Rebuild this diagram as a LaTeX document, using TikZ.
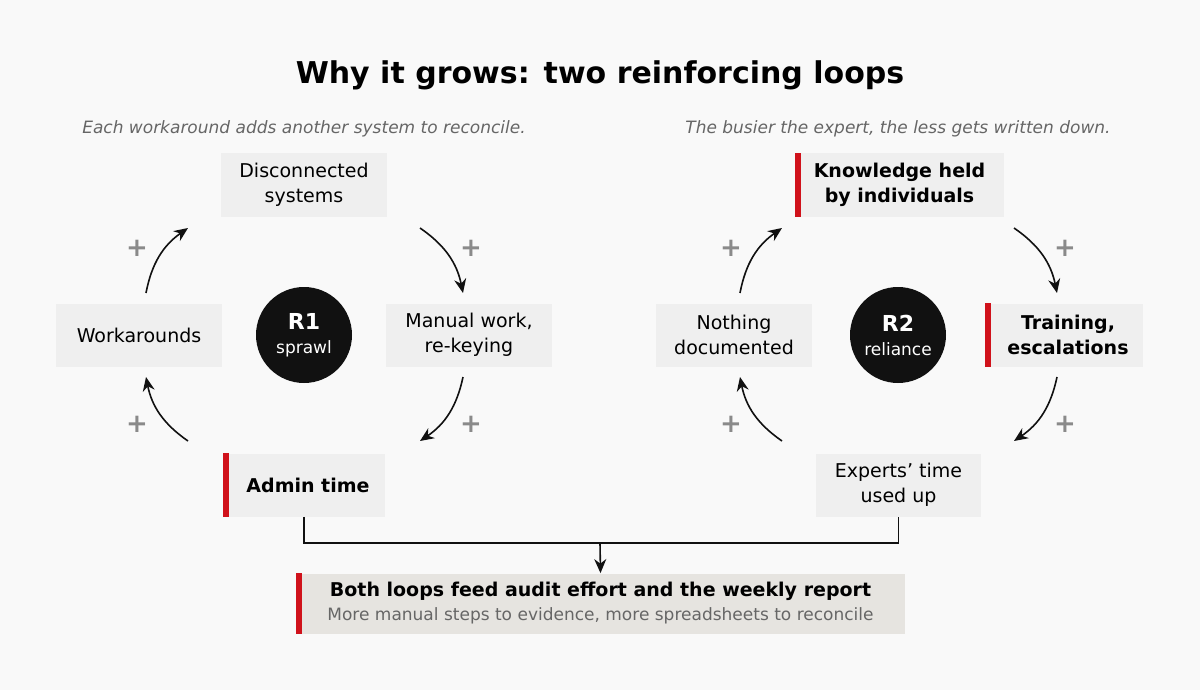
\documentclass[tikz,border=0pt]{standalone}
\usepackage{fontspec}
\setmainfont{DejaVu Sans}
\usetikzlibrary{arrows.meta}
\definecolor{bgc}{HTML}{F9F9F9}
\definecolor{boxc}{HTML}{EFEFEF}
\definecolor{feedc}{HTML}{E6E4E0}
\definecolor{redc}{HTML}{D0121B}
\definecolor{darkc}{HTML}{111111}
\definecolor{plusc}{HTML}{8A8A8A}
\definecolor{subc}{HTML}{666666}
\tikzset{
  box/.style={fill=boxc, align=center, font=\fontsize{9.5}{12.5}\selectfont, minimum width=83pt, minimum height=31.5pt, inner sep=2pt},
  keybox/.style={box, font=\fontsize{9.5}{12.5}\selectfont\bfseries},
  loop/.style={circle, fill=darkc, minimum size=48pt, inner sep=0pt, align=center, text=white},
  flow/.style={-{Stealth[length=7pt,width=6pt]}, line width=0.8pt, darkc},
  plus/.style={text=plusc, font=\fontsize{13}{13}\selectfont\bfseries},
  note/.style={text=subc, font=\fontsize{8.5}{10}\selectfont\itshape}
}
\newcommand{\redbar}[1]{\fill[redc] (#1.north west) rectangle ([xshift=3pt]#1.south west);}
\begin{document}
\begin{tikzpicture}[x=0.5pt,y=-0.5pt]
\fill[bgc] (0,0) rectangle (1200,690);
\useasboundingbox (0,0) rectangle (1200,690);

\node[font=\fontsize{15}{16}\selectfont\bfseries] (title) at (600,75) {Why it grows: two reinforcing loops};
\node[note] (noteL) at (304,129) {Each workaround adds another system to reconcile.};
\node[note] (noteR) at (898,129) {The busier the expert, the less gets written down.};

% left loop
\node[box] (disc) at (304,185) {Disconnected\\systems};
\node[box] (manual) at (469,335) {Manual work,\\re-keying};
\node[keybox, minimum width=81pt] (admin) at (304,485) {\hspace{4pt}Admin time};
\node[box] (work) at (139,335) {Workarounds};
\node[loop] (r1) at (304,335) {{\fontsize{11}{12}\selectfont\bfseries R1}\\[0pt]{\fontsize{8.5}{10}\selectfont sprawl}};
\redbar{admin}

% right loop
\node[keybox, minimum width=104.5pt] (know) at (899.5,185) {Knowledge held\\by individuals};
\node[keybox, minimum width=79pt] (train) at (1064,335) {\hspace{4pt}Training,\\\hspace{4pt}escalations};
\node[box, minimum width=82.5pt] (expert) at (898.5,485) {Experts’ time\\used up};
\node[box, minimum width=78pt] (nodoc) at (734,335) {Nothing\\documented};
\node[loop] (r2) at (898,335) {{\fontsize{11}{12}\selectfont\bfseries R2}\\[0pt]{\fontsize{8.5}{10}\selectfont reliance}};
\redbar{know}
\redbar{train}

% arrow end points
\foreach \n/\dx in {a/0, b/594} {
  \coordinate (\n1) at (146+\dx,293); \coordinate (\n2) at (188+\dx,228);
  \coordinate (\n3) at (420+\dx,228); \coordinate (\n4) at (463+\dx,293);
  \coordinate (\n5) at (463+\dx,377); \coordinate (\n6) at (420+\dx,441);
  \coordinate (\n7) at (188+\dx,441); \coordinate (\n8) at (146+\dx,377);
  \draw[flow] (\n1) to[bend left=22] (\n2);
  \draw[flow] (\n3) to[bend left=22] (\n4);
  \draw[flow] (\n5) to[bend left=22] (\n6);
  \draw[flow] (\n7) to[bend left=22] (\n8);
  \node[plus] at (137+\dx,248) {+};
  \node[plus] at (471+\dx,248) {+};
  \node[plus] at (471+\dx,424) {+};
  \node[plus] at (137+\dx,424) {+};
}

% feed
\node[fill=feedc, minimum width=304.5pt, minimum height=30pt, align=center, inner sep=1pt] (feed) at (600.5,603.5)
  {{\fontsize{9.5}{11}\selectfont\bfseries Both loops feed audit effort and the weekly report}\\[0pt]
   {\fontsize{8.5}{10}\selectfont\color{subc} More manual steps to evidence, more spreadsheets to reconcile}};
\redbar{feed}
\coordinate (join) at (600,543);
\draw[line width=0.8pt, darkc] (admin.south) |- (join) -| (expert.south);
\draw[flow] (join) -- (feed.north);
\end{tikzpicture}
\end{document}
